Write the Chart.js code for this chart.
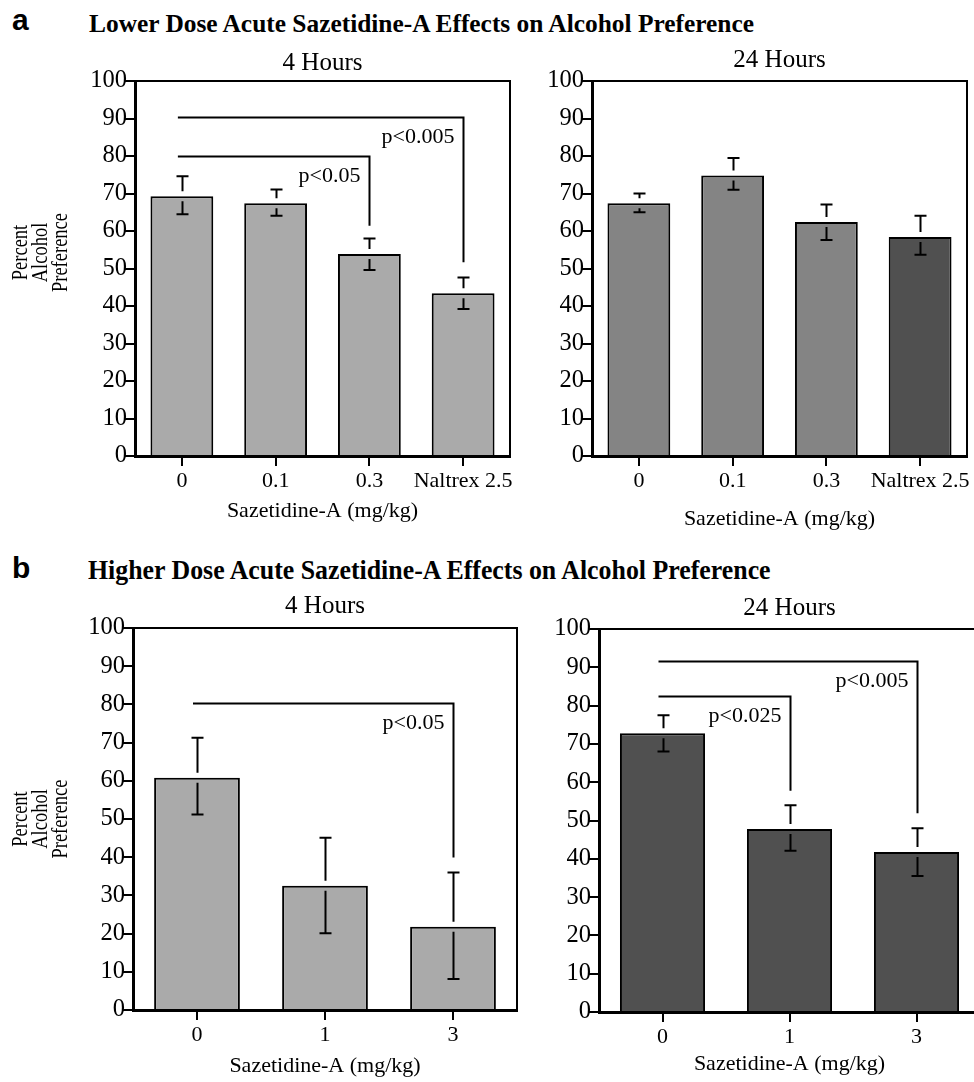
<!DOCTYPE html>
<html>
<head>
<meta charset="utf-8">
<script src="https://cdn.jsdelivr.net/npm/chart.js@4/dist/chart.umd.min.js"></script>
<style>
  html, body { margin: 0; padding: 0; background: #fff; }
  #page { position: relative; width: 974px; height: 1082px; overflow: hidden; background: #fff; }
  .panel { position: absolute; }
  .letter { position: absolute; font: bold 30px "Liberation Sans", Arial, sans-serif; line-height: 30px; color: #000; }
  .figtitle { position: absolute; font-family: "Liberation Serif", "Times New Roman", serif; font-weight: bold; color: #000; white-space: nowrap; transform-origin: 0 0; }
</style>
</head>
<body>
<div id="page">
  <div class="letter" style="left:12px; top:5px;">a</div>
  <div class="figtitle" style="left:89px; top:11px; font-size:25.4px; line-height:25px;">Lower Dose Acute Sazetidine-A Effects on Alcohol Preference</div>
  <div class="letter" style="left:12px; top:553px;">b</div>
  <div class="figtitle" style="left:88px; top:556px; font-size:28px; line-height:28px; transform:scaleX(0.923);">Higher Dose Acute Sazetidine-A Effects on Alcohol Preference</div>

  <canvas id="lowDose4h" class="panel"></canvas>
  <canvas id="lowDose24h" class="panel"></canvas>
  <canvas id="highDose4h" class="panel"></canvas>
  <canvas id="highDose24h" class="panel"></canvas>
</div>

<script>
// nilai (persen preferensi alkohol, rata-rata dan ujung error bar)

// a: dosis rendah
const lowDoseLabels = ['0', '0.1', '0.3', 'Naltrex 2.5'];
const lowDose4hMean = [69.3, 67.4, 53.9, 43.4];
const lowDose4hUpper = [74.6, 71.1, 58.0, 47.6];
const lowDose4hLower = [64.5, 64.1, 49.6, 39.2];
const lowDose24hMean = [67.4, 74.8, 62.4, 58.4];
const lowDose24hUpper = [70.0, 79.5, 67.1, 64.1];
const lowDose24hLower = [65.0, 71.0, 57.6, 53.7];

// b: dosis tinggi
const highDoseLabels = ['0', '1', '3'];
const highDose4hMean = [60.8, 32.5, 21.8];
const highDose4hUpper = [71.3, 45.1, 36.0];
const highDose4hLower = [51.2, 20.1, 8.1];
const highDose24hMean = [72.8, 47.8, 41.8];
const highDose24hUpper = [77.5, 54.0, 48.0];
const highDose24hLower = [68.0, 42.1, 35.5];

// tanda signifikansi: dari kategori, ke kategori, tinggi garis, ujung bawah, teks
const lowDose4hSig = [
  { from: 0, to: 2, level: 80, drop: 61.4, text: 'p<0.05' },
  { from: 0, to: 3, level: 90.5, drop: 51.7, text: 'p<0.005' }
];
const lowDose24hSig = [];
const highDose4hSig = [
  { from: 0, to: 2, level: 80.3, drop: 39.9, text: 'p<0.05' }
];
const highDose24hSig = [
  { from: 0, to: 1, level: 82.6, drop: 57.8, text: 'p<0.025' },
  { from: 0, to: 2, level: 91.6, drop: 51.9, text: 'p<0.005' }
];

const yMin = 0;
const yMax = 100;
const yStep = 10;
const xTitle = 'Sazetidine-A (mg/kg)';
const yTitle = ['Percent', 'Alcohol', 'Preference'];

// Warna batang
const lightGray = '#aaaaaa';
const midGray = '#848484';
const darkGray = '#505050';

const serif = '"Liberation Serif", "Times New Roman", serif';

// Plugin untuk bingkai, error bar, garis signifikansi dan judul
const extrasPlugin = {
  id: 'extras',
  afterDatasetsDraw(chart, args, opts) {
    const { ctx, chartArea: a } = chart;
    const x = chart.scales.x;
    const y = chart.scales.y;
    ctx.save();
    ctx.strokeStyle = '#000';
    ctx.fillStyle = '#000';
    ctx.lineWidth = 2;

    // bingkai atas dan kanan
    ctx.beginPath();
    ctx.moveTo(a.left, a.top);
    ctx.lineTo(a.right, a.top);
    ctx.lineTo(a.right, a.bottom);
    ctx.stroke();

    // error bar (terputus di sekitar tepi atas batang)
    const gap = 5;
    const cap = 6;
    opts.mean.forEach((m, i) => {
      const cx = Math.round(x.getPixelForValue(i)) + 0.5;
      const yTop = y.getPixelForValue(m);
      const yHi = y.getPixelForValue(opts.upper[i]);
      const yLo = y.getPixelForValue(opts.lower[i]);
      ctx.beginPath();
      if (yTop - gap > yHi) {
        ctx.moveTo(cx, yHi);
        ctx.lineTo(cx, yTop - gap);
      }
      if (yTop + gap < yLo) {
        ctx.moveTo(cx, yTop + gap);
        ctx.lineTo(cx, yLo);
      }
      ctx.moveTo(cx - cap, yHi);
      ctx.lineTo(cx + cap, yHi);
      ctx.moveTo(cx - cap, yLo);
      ctx.lineTo(cx + cap, yLo);
      ctx.stroke();
    });

    // garis signifikansi
    ctx.font = '22px ' + serif;
    ctx.textAlign = 'right';
    ctx.textBaseline = 'middle';
    opts.sig.forEach(s => {
      const x0 = x.getPixelForValue(s.from) - 4;
      const x1 = Math.round(x.getPixelForValue(s.to)) + 0.5;
      const yl = Math.round(y.getPixelForValue(s.level)) + 0.5;
      ctx.beginPath();
      ctx.moveTo(x0, yl);
      ctx.lineTo(x1, yl);
      ctx.lineTo(x1, y.getPixelForValue(s.drop));
      ctx.stroke();
      ctx.fillText(s.text, x1 - 9, yl + 20);
    });

    // judul panel
    ctx.font = '25px ' + serif;
    ctx.textAlign = 'center';
    ctx.textBaseline = 'alphabetic';
    ctx.fillText(opts.title, (a.left + a.right) / 2, a.top - opts.titleGap);

    // judul sumbu y (tiga baris, diputar, sedikit melebar ke samping seperti aslinya)
    if (opts.showYTitle) {
      ctx.font = '18.5px ' + serif;
      ctx.textBaseline = 'middle';
      const midY = (a.top + a.bottom) / 2 + opts.yTitleShift;
      yTitle.forEach((line, k) => {
        ctx.save();
        ctx.translate(21 + k * 20, midY);
        ctx.scale(1.2, 1);
        ctx.rotate(-Math.PI / 2);
        ctx.fillText(line, 0, 0);
        ctx.restore();
      });
    }
    ctx.restore();
  }
};

// Fungsi untuk membuat satu panel
function buildPanel(cfg) {
  const canvas = document.getElementById(cfg.id);
  const [cx, cy, cw, ch] = cfg.canvasBox;
  const area = cfg.area;
  canvas.style.left = cx + 'px';
  canvas.style.top = cy + 'px';
  canvas.width = cw;
  canvas.height = ch;

  const axisLine = {
    display: true,
    drawOnChartArea: false,
    drawTicks: true,
    tickLength: 10,
    color: '#000',
    lineWidth: 2
  };
  const lineH = 26.4;

  return new Chart(canvas, {
    type: 'bar',
    data: {
      labels: cfg.labels,
      datasets: [{
        data: cfg.mean,
        backgroundColor: cfg.colors,
        borderColor: '#000',
        borderWidth: 2,
        barPercentage: 0.67,
        categoryPercentage: 1
      }]
    },
    options: {
      responsive: false,
      animation: false,
      devicePixelRatio: 1,
      layout: {
        padding: { left: 0, top: area.top - cy, right: cx + cw - area.right, bottom: 0 }
      },
      plugins: {
        legend: { display: false },
        tooltip: { enabled: false },
        extras: {
          mean: cfg.mean,
          upper: cfg.upper,
          lower: cfg.lower,
          sig: cfg.sig,
          title: cfg.title,
          titleGap: cfg.titleGap,
          showYTitle: cfg.showYTitle,
          yTitleShift: cfg.yTitleShift || 0
        }
      },
      scales: {
        x: {
          z: 1,
          grid: Object.assign({ offset: false }, axisLine),
          border: { display: true, color: '#000', width: 3 },
          ticks: { color: '#000', font: { family: serif, size: 22 }, padding: 2, maxRotation: 0, autoSkip: false },
          title: {
            display: true,
            text: xTitle,
            color: '#000',
            font: { family: serif, size: 22, lineHeight: 1.2 },
            padding: { top: 0, bottom: cy + ch - cfg.xTitleY - lineH / 2 }
          },
          afterFit: s => { s.height = cy + ch - area.bottom; }
        },
        y: {
          z: 1,
          min: yMin,
          max: yMax,
          grid: axisLine,
          border: { display: true, color: '#000', width: 3 },
          ticks: { stepSize: yStep, color: '#000', font: { family: serif, size: 24.5 }, padding: -2 },
          afterFit: s => { s.width = area.left - cx; }
        }
      }
    },
    plugins: [extrasPlugin]
  });
}

document.addEventListener('DOMContentLoaded', function() {
  buildPanel({
    id: 'lowDose4h',
    canvasBox: [0, 40, 520, 500],
    area: { left: 135, top: 81, right: 510, bottom: 456 },
    labels: lowDoseLabels,
    mean: lowDose4hMean, upper: lowDose4hUpper, lower: lowDose4hLower,
    colors: [lightGray, lightGray, lightGray, lightGray],
    sig: lowDose4hSig,
    title: '4 Hours', titleGap: 11,
    xTitleY: 511,
    showYTitle: true, yTitleShift: -16
  });
  buildPanel({
    id: 'lowDose24h',
    canvasBox: [520, 40, 454, 500],
    area: { left: 592, top: 81, right: 967, bottom: 456 },
    labels: lowDoseLabels,
    mean: lowDose24hMean, upper: lowDose24hUpper, lower: lowDose24hLower,
    colors: [midGray, midGray, midGray, darkGray],
    sig: lowDose24hSig,
    title: '24 Hours', titleGap: 14,
    xTitleY: 519,
    showYTitle: false
  });
  buildPanel({
    id: 'highDose4h',
    canvasBox: [0, 590, 520, 492],
    area: { left: 133, top: 628, right: 517, bottom: 1010 },
    labels: highDoseLabels,
    mean: highDose4hMean, upper: highDose4hUpper, lower: highDose4hLower,
    colors: [lightGray, lightGray, lightGray],
    sig: highDose4hSig,
    title: '4 Hours', titleGap: 15,
    xTitleY: 1066,
    showYTitle: true, yTitleShift: 0
  });
  buildPanel({
    id: 'highDose24h',
    canvasBox: [520, 590, 470, 492],
    area: { left: 599, top: 629, right: 980, bottom: 1012 },
    labels: highDoseLabels,
    mean: highDose24hMean, upper: highDose24hUpper, lower: highDose24hLower,
    colors: [darkGray, darkGray, darkGray],
    sig: highDose24hSig,
    title: '24 Hours', titleGap: 14,
    xTitleY: 1064,
    showYTitle: false
  });
});
</script>
</body>
</html>
